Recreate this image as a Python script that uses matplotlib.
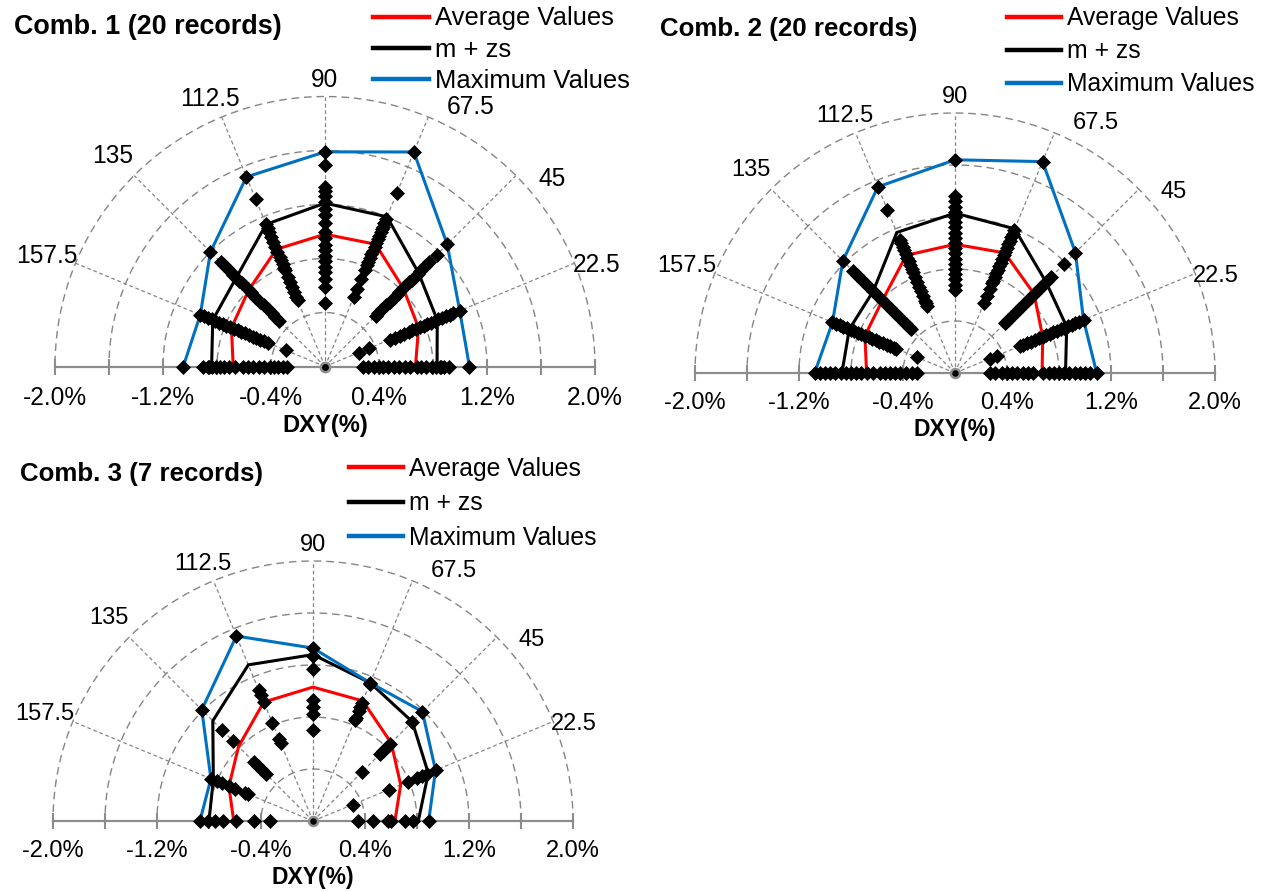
import numpy as np
import matplotlib.pyplot as plt
from matplotlib.lines import Line2D

plt.rcParams['font.family'] = ['Liberation Sans', 'DejaVu Sans']

W, H = 1263, 892

# directions of the radial axes (deg)
angles = [0, 22.5, 45, 67.5, 90, 112.5, 135, 157.5, 180]
tick_values = [-2.0, -1.2, -0.4, 0.4, 1.2, 2.0]
tick_labels = ['-2.0%', '-1.2%', '-0.4%', '0.4%', '1.2%', '2.0%']
minor_ticks = [-2.0, -1.6, -1.2, -0.8, -0.4, 0.4, 0.8, 1.2, 1.6, 2.0]
rings = [0.4, 0.8, 1.2, 1.6, 2.0]
series_names = ['Average Values', 'm + zs', 'Maximum Values']

# ---- Comb. 1 : 20 records, DXY (%) per direction 0 ... 180
avg1 = [0.67, 0.75, 0.82, 0.98, 0.98, 0.94, 0.80, 0.75, 0.68]
mzs1 = [0.83, 0.90, 0.98, 1.20, 1.21, 1.14, 0.93, 0.90, 0.84]
max1 = [1.07, 1.08, 1.28, 1.72, 1.59, 1.52, 1.20, 1.00, 1.05]
rec1 = [
    [1.07, 0.92, 0.88, 0.86, 0.85, 0.82, 0.79, 0.75, 0.71, 0.68, 0.63, 0.59, 0.55, 0.51, 0.47, 0.43, 0.40, 0.36, 0.32, 0.28],
    [1.08, 1.03, 1.00, 0.97, 0.94, 0.91, 0.88, 0.85, 0.82, 0.79, 0.76, 0.73, 0.70, 0.67, 0.63, 0.60, 0.56, 0.52, 0.35, 0.27],
    [1.28, 1.17, 1.09, 1.06, 1.03, 1.00, 0.97, 0.94, 0.91, 0.88, 0.85, 0.82, 0.78, 0.75, 0.72, 0.68, 0.64, 0.60, 0.56, 0.53],
    [1.72, 1.39, 1.18, 1.15, 1.12, 1.10, 1.08, 1.05, 1.02, 0.99, 0.96, 0.93, 0.90, 0.87, 0.84, 0.81, 0.77, 0.70, 0.62, 0.56],
    [1.59, 1.49, 1.33, 1.30, 1.26, 1.22, 1.17, 1.12, 1.06, 1.00, 0.95, 0.90, 0.86, 0.82, 0.78, 0.74, 0.70, 0.65, 0.59, 0.47],
    [1.52, 1.34, 1.14, 1.11, 1.08, 1.04, 1.00, 0.96, 0.92, 0.88, 0.85, 0.82, 0.79, 0.77, 0.72, 0.68, 0.64, 0.60, 0.56, 0.53],
    [1.20, 1.09, 1.06, 1.03, 1.00, 0.96, 0.93, 0.90, 0.87, 0.84, 0.81, 0.78, 0.75, 0.72, 0.68, 0.64, 0.60, 0.56, 0.52, 0.48],
    [1.00, 0.97, 0.94, 0.91, 0.88, 0.85, 0.82, 0.79, 0.76, 0.73, 0.70, 0.67, 0.64, 0.61, 0.58, 0.55, 0.52, 0.49, 0.46, 0.31],
    [1.05, 0.90, 0.87, 0.86, 0.84, 0.81, 0.78, 0.75, 0.71, 0.67, 0.61, 0.57, 0.53, 0.49, 0.45, 0.41, 0.38, 0.35, 0.31, 0.28],
]

# ---- Comb. 2 : 20 records
avg2 = [0.67, 0.73, 0.86, 1.00, 0.99, 0.98, 0.79, 0.75, 0.68]
mzs2 = [0.85, 0.93, 0.99, 1.20, 1.23, 1.17, 0.89, 0.88, 0.87]
max2 = [1.09, 1.07, 1.31, 1.76, 1.64, 1.55, 1.22, 1.02, 1.08]
rec2 = [
    [1.09, 1.04, 1.00, 0.96, 0.92, 0.88, 0.84, 0.80, 0.76, 0.72, 0.68, 0.60, 0.56, 0.52, 0.48, 0.44, 0.40, 0.36, 0.31, 0.27],
    [1.07, 1.03, 1.00, 0.97, 0.94, 0.91, 0.88, 0.85, 0.82, 0.79, 0.76, 0.73, 0.70, 0.67, 0.63, 0.60, 0.57, 0.54, 0.35, 0.29],
    [1.31, 1.19, 1.04, 1.00, 0.96, 0.92, 0.90, 0.88, 0.85, 0.82, 0.79, 0.76, 0.73, 0.70, 0.67, 0.64, 0.61, 0.58, 0.56, 0.54],
    [1.76, 1.19, 1.16, 1.13, 1.10, 1.07, 1.04, 1.01, 0.98, 0.95, 0.92, 0.89, 0.86, 0.83, 0.80, 0.77, 0.75, 0.70, 0.64, 0.58],
    [1.64, 1.36, 1.32, 1.28, 1.24, 1.20, 1.16, 1.12, 1.08, 1.04, 1.00, 0.96, 0.92, 0.88, 0.84, 0.80, 0.76, 0.72, 0.68, 0.64],
    [1.55, 1.36, 1.11, 1.08, 1.05, 1.02, 0.99, 0.96, 0.93, 0.90, 0.87, 0.84, 0.80, 0.76, 0.72, 0.68, 0.64, 0.60, 0.58, 0.56],
    [1.22, 1.11, 1.07, 1.03, 1.00, 0.96, 0.93, 0.89, 0.85, 0.82, 0.78, 0.75, 0.71, 0.67, 0.64, 0.60, 0.56, 0.53, 0.50, 0.48],
    [1.02, 0.99, 0.96, 0.93, 0.90, 0.87, 0.84, 0.81, 0.78, 0.75, 0.72, 0.69, 0.66, 0.63, 0.60, 0.57, 0.54, 0.51, 0.49, 0.32],
    [1.08, 1.04, 1.00, 0.96, 0.92, 0.88, 0.84, 0.80, 0.76, 0.72, 0.68, 0.63, 0.58, 0.54, 0.50, 0.46, 0.42, 0.38, 0.33, 0.29],
]

# ---- Comb. 3 : 7 records
avg3 = [0.63, 0.73, 0.85, 1.00, 1.03, 0.99, 0.81, 0.70, 0.61]
mzs3 = [0.81, 0.96, 1.08, 1.15, 1.28, 1.30, 1.09, 0.83, 0.80]
max3 = [0.89, 1.02, 1.19, 1.15, 1.33, 1.54, 1.21, 0.85, 0.87]
rec3 = [
    [0.89, 0.77, 0.71, 0.60, 0.58, 0.46, 0.35],
    [1.02, 0.95, 0.91, 0.87, 0.79, 0.63, 0.33],
    [1.19, 1.08, 0.84, 0.80, 0.76, 0.73, 0.53],
    [1.15, 1.14, 0.98, 0.95, 0.92, 0.86, 0.84],
    [1.33, 1.27, 1.17, 0.93, 0.88, 0.82, 0.70],
    [1.54, 1.09, 1.05, 0.99, 0.82, 0.68, 0.65],
    [1.21, 0.99, 0.87, 0.64, 0.60, 0.55, 0.51],
    [0.85, 0.80, 0.76, 0.70, 0.65, 0.57, 0.54],
    [0.87, 0.81, 0.75, 0.69, 0.59, 0.45, 0.33],
]

# where the angle labels sit (x, y in %)
angle_label_pos = {
    22.5: (2.01, 0.75), 45: (1.68, 1.39), 67.5: (1.08, 1.92), 90: (0.0, 2.12),
    112.5: (-0.85, 1.98), 135: (-1.57, 1.56), 157.5: (-2.06, 0.82),
}
angle_names = {22.5: '22.5', 45: '45', 67.5: '67.5', 90: '90',
               112.5: '112.5', 135: '135', 157.5: '157.5'}

GRID = '#858585'
AXIS = '#8c8c8c'
RED = '#ff0000'
BLUE = '#0070c0'

fig = plt.figure(figsize=(W / 100, H / 100), dpi=100)


def xy(r, a):
    t = np.deg2rad(a)
    return np.asarray(r) * np.cos(t), np.asarray(r) * np.sin(t)


def polar_panel(box, center, scale, title, title_xy, leg_xy, leg_sp, rec, avg, mzs, mx):
    # box and center in pixels (y from top), scale = pixels per 1 %
    L, T, R, B = box
    cx, cy = center
    ax = fig.add_axes([L / W, 1 - B / H, (R - L) / W, (B - T) / H])
    ax.set_xlim((L - cx) / scale, (R - cx) / scale)
    ax.set_ylim((cy - B) / scale, (cy - T) / scale)
    ax.axis('off')
    k = scale / 130.0

    # dashed rings and spokes
    th = np.linspace(0, np.pi, 300)
    for r in rings:
        ax.plot(r * np.cos(th), r * np.sin(th), color=GRID, lw=1.0,
                ls=(0, (5.5, 3.5)), zorder=1)
    for a in angles[1:-1]:
        ex, ey = xy(2.0, a)
        ax.plot([0, ex], [0, ey], color=GRID, lw=0.9, ls=(0, (3, 2.2)), zorder=1)
        lx, ly = angle_label_pos[a]
        ax.text(lx, ly, angle_names[a], ha='center', va='center', fontsize=17 * k)

    # horizontal axis with ticks
    ax.plot([-2.0, 2.0], [0, 0], color=AXIS, lw=1.6, zorder=2)
    ax.plot(minor_ticks, np.zeros(len(minor_ticks)), ls='none', marker='|',
            ms=11 * k, mew=1.5, color=AXIS, zorder=2)
    for v, lbl in zip(tick_values, tick_labels):
        ax.annotate(lbl, (v, 0), xytext=(0, -21.5 * k), textcoords='offset points',
                    ha='center', va='center', fontsize=17 * k)
    ax.annotate('DXY(%)', (0, 0), xytext=(0, -41 * k), textcoords='offset points',
                ha='center', va='center', fontsize=16.5 * k, fontweight='bold')

    # envelopes
    for vals, col in zip([avg, mzs, mx], [RED, 'black', BLUE]):
        px, py = xy(vals, angles)
        ax.plot(px, py, color=col, lw=2.2, zorder=3, solid_joinstyle='miter')

    # single records
    for a, rs in zip(angles, rec):
        px, py = xy(rs, a)
        ax.plot(px, py, ls='none', marker='D', ms=7.2 * k, color='black',
                mec='black', mew=0.5, zorder=4)

    # origin
    ax.plot([0], [0], marker='o', ms=6.5 * k, mfc='black', mec='#909090',
            mew=1.8, zorder=5)

    fig.text(title_xy[0] / W, 1 - title_xy[1] / H, title, ha='left', va='center',
             fontsize=18.6 * k, fontweight='bold')

    handles = [Line2D([], [], color=c, lw=3.2) for c in [RED, 'black', BLUE]]
    ax.legend(handles, series_names, loc='upper left',
              bbox_to_anchor=(leg_xy[0] / W, 1 - leg_xy[1] / H),
              bbox_transform=fig.transFigure, frameon=False, fontsize=17.8 * k,
              handlelength=2.17, handletextpad=0.25, labelspacing=leg_sp,
              borderpad=0, borderaxespad=0)
    return ax


polar_panel((0, 0, 640, 445), (325, 366.5), 135, 'Comb. 1 (20 records)',
            (14, 27), (373, 6.5), 0.29, rec1, avg1, mzs1, max1)
polar_panel((640, 0, 1263, 445), (955, 373), 130, 'Comb. 2 (20 records)',
            (660, 29), (1007, 6.5), 0.36, rec2, avg2, mzs2, max2)
polar_panel((0, 445, 640, 892), (313, 821), 130, 'Comb. 3 (7 records)',
            (20, 474), (349, 457), 0.42, rec3, avg3, mzs3, max3)

fig.savefig('out.png', dpi=100)
